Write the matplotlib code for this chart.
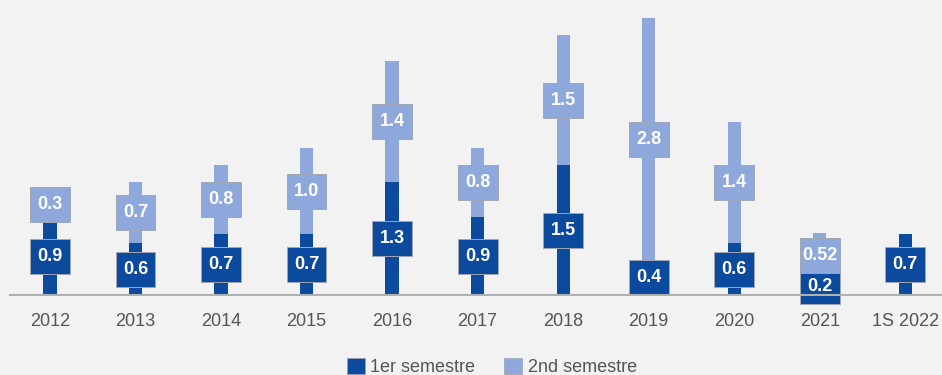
import matplotlib.pyplot as plt
from matplotlib.patches import Rectangle, Patch

years = ["2012", "2013", "2014", "2015", "2016", "2017", "2018", "2019", "2020", "2021", "1S 2022"]
first_half = [0.9, 0.6, 0.7, 0.7, 1.3, 0.9, 1.5, 0.4, 0.6, 0.2, 0.7]
second_half = [0.3, 0.7, 0.8, 1.0, 1.4, 0.8, 1.5, 2.8, 1.4, 0.52, None]
first_labels = ["0.9", "0.6", "0.7", "0.7", "1.3", "0.9", "1.5", "0.4", "0.6", "0.2", "0.7"]
second_labels = ["0.3", "0.7", "0.8", "1.0", "1.4", "0.8", "1.5", "2.8", "1.4", "0.52", None]

DARK = "#0b4a9c"
LIGHT = "#8fa8db"
BG = "#f2f2f2"

plt.rcParams['font.family'] = ['Liberation Sans', 'DejaVu Sans']

fig = plt.figure(figsize=(9.42, 3.75), dpi=100, facecolor=BG)
ax = fig.add_axes([10 / 942, 80 / 375, 932 / 942, 290 / 375])
ax.set_facecolor(BG)

x = list(range(len(years)))
bar_w = 0.155
box_w = 0.465
box_h = 0.405

lower = [v for v in first_half]
upper = [v if v is not None else 0 for v in second_half]
ax.bar(x, lower, width=bar_w, color=DARK, zorder=2)
ax.bar(x, upper, width=bar_w, bottom=lower, color=LIGHT, zorder=2)


def label_box(xc, yc, text, color):
    ax.add_patch(Rectangle((xc - box_w / 2, yc - box_h / 2), box_w, box_h,
                           facecolor=color, edgecolor="#a0a6b4", linewidth=0.7,
                           zorder=3, clip_on=False))
    ax.text(xc, yc, text, color="white", fontsize=13, fontweight="bold",
            ha="center", va="center", zorder=4)


for i in x:
    label_box(i, first_half[i] / 2, first_labels[i], DARK)
    if second_half[i] is not None:
        label_box(i, first_half[i] + second_half[i] / 2, second_labels[i], LIGHT)

ax.set_xlim(-0.468, 10.43)
ax.set_ylim(0, 3.35)
for s in ["top", "right", "left"]:
    ax.spines[s].set_visible(False)
ax.spines["bottom"].set_color("#b0b0b0")
ax.spines["bottom"].set_linewidth(1.5)
ax.spines["bottom"].set_zorder(5)
ax.set_yticks([])
ax.set_xticks(x)
ax.set_xticklabels(years, fontsize=13, color="#555555")
ax.tick_params(axis="x", length=0, pad=13)

handles = [Patch(facecolor=DARK, edgecolor="#9aa3b5", linewidth=0.5),
           Patch(facecolor=LIGHT, edgecolor="#9aa3b5", linewidth=0.5)]
fig.legend(handles, ["1er semestre", "2nd semestre"], loc="center",
           bbox_to_anchor=(492 / 942, 1 - 367 / 375), ncol=2, frameon=False,
           fontsize=13, labelcolor="#555555", handlelength=1.0,
           handleheight=1.0, handletextpad=0.3, columnspacing=1.6,
           borderpad=0)

fig.savefig("out.png", dpi=100, facecolor=BG)
